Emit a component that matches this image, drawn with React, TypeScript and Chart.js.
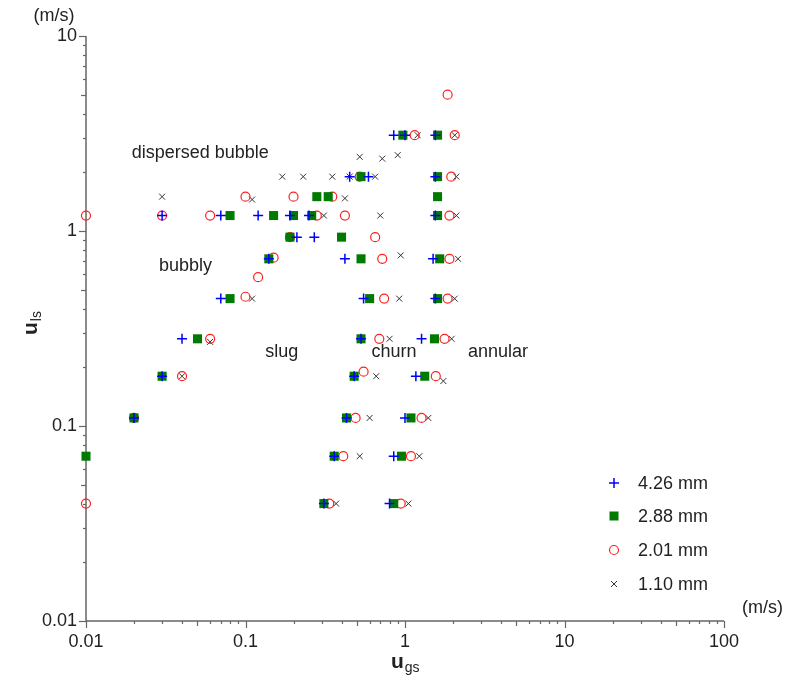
import React, { useEffect, useRef } from 'react';
import { Chart, registerables } from 'chart.js';

Chart.register(...registerables);

// ---- data ----
const seriesLabels = ['4.26 mm', '2.88 mm', '2.01 mm', '1.10 mm'];

const plusX = [0.03, 0.07, 0.12, 0.19, 0.25, 1.55, 0.21, 0.27, 0.14, 0.42, 1.5, 0.07, 0.55, 1.55, 0.04, 0.53, 1.27, 0.03, 0.48, 1.17, 0.02, 0.43, 1.0, 0.36, 0.85, 0.31, 0.8, 0.45, 0.59, 1.55, 0.85, 1.0, 1.55];
const plusY = [1.2, 1.2, 1.2, 1.2, 1.2, 1.2, 0.93, 0.93, 0.72, 0.72, 0.72, 0.45, 0.45, 0.45, 0.28, 0.28, 0.28, 0.18, 0.18, 0.18, 0.11, 0.11, 0.11, 0.07, 0.07, 0.04, 0.04, 1.9, 1.9, 1.9, 3.1, 3.1, 3.1];

const squareX = [0.01, 0.02, 0.03, 0.05, 0.08, 0.14, 0.19, 0.08, 0.15, 0.2, 0.26, 0.28, 0.33, 1.6, 0.53, 1.6, 0.97, 1.6, 1.6, 0.4, 0.53, 1.65, 0.6, 1.6, 0.53, 1.53, 0.48, 1.33, 0.43, 1.09, 0.36, 0.95, 0.31, 0.85];
const squareY = [0.07, 0.11, 0.18, 0.28, 0.45, 0.72, 0.93, 1.2, 1.2, 1.2, 1.2, 1.5, 1.5, 1.5, 1.9, 1.9, 3.1, 3.1, 1.2, 0.93, 0.72, 0.72, 0.45, 0.45, 0.28, 0.28, 0.18, 0.18, 0.11, 0.11, 0.07, 0.07, 0.04, 0.04];

const circleX = [0.01, 0.01, 0.02, 0.04, 0.06, 0.1, 0.12, 0.15, 0.19, 0.03, 0.06, 0.1, 0.2, 0.28, 0.35, 0.42, 0.52, 0.65, 0.72, 0.74, 0.69, 0.55, 0.49, 0.41, 0.335, 1.15, 2.05, 1.85, 1.95, 1.9, 1.9, 1.85, 1.77, 1.56, 1.27, 1.09, 0.94];
const circleY = [1.2, 0.04, 0.11, 0.18, 0.28, 0.46, 0.58, 0.73, 0.93, 1.2, 1.2, 1.5, 1.5, 1.2, 1.5, 1.2, 1.9, 0.93, 0.72, 0.45, 0.28, 0.19, 0.11, 0.07, 0.04, 3.1, 3.1, 5.0, 1.9, 1.2, 0.72, 0.45, 0.28, 0.18, 0.11, 0.07, 0.04];

const crossX = [0.02, 0.04, 0.06, 0.11, 0.03, 0.11, 0.17, 0.23, 0.35, 0.45, 0.65, 2.1, 0.31, 0.7, 2.1, 0.42, 0.52, 0.72, 0.9, 1.2, 2.05, 0.94, 2.15, 0.92, 2.05, 0.8, 1.96, 0.66, 1.74, 0.6, 1.4, 0.52, 1.23, 0.37, 1.05];
const crossY = [0.11, 0.18, 0.27, 0.45, 1.5, 1.45, 1.9, 1.9, 1.9, 1.9, 1.9, 1.9, 1.2, 1.2, 1.2, 1.47, 2.4, 2.35, 2.45, 3.1, 3.1, 0.75, 0.72, 0.45, 0.45, 0.28, 0.28, 0.18, 0.17, 0.11, 0.11, 0.07, 0.07, 0.04, 0.04];

const xTickValues = [0.01, 0.1, 1, 10, 100];
const xTickLabels = ['0.01', '0.1', '1', '10', '100'];
const yTickValues = [0.01, 0.1, 1, 10];
const yTickLabels = ['0.01', '0.1', '1', '10'];

const regionLabels = ['dispersed bubble', 'bubbly', 'slug', 'churn', 'annular'];
const regionX = [0.052, 0.042, 0.169, 0.853, 3.83];
const regionY = [2.51, 0.66, 0.239, 0.239, 0.239];

const unitText = '(m/s)';

// ---- styles ----
const FONT = '"Liberation Sans", Arial, sans-serif';
const TEXT = '#222';
const AXIS = '#666';
const BLUE = '#0000ff';
const GREEN = '#007a00';
const RED = '#ff2020';
const DARK = '#333';

const toPts = (xs: number[], ys: number[]) => xs.map((x, i) => ({ x, y: ys[i] }));

function drawMarker(ctx: CanvasRenderingContext2D, kind: number, cx: number, cy: number) {
  ctx.save();
  if (kind === 0) {
    ctx.strokeStyle = BLUE; ctx.lineWidth = 1.5;
    ctx.beginPath();
    ctx.moveTo(cx - 5, cy); ctx.lineTo(cx + 5, cy);
    ctx.moveTo(cx, cy - 5); ctx.lineTo(cx, cy + 5);
    ctx.stroke();
  } else if (kind === 1) {
    ctx.fillStyle = GREEN;
    ctx.fillRect(cx - 4.5, cy - 4.5, 9, 9);
  } else if (kind === 2) {
    ctx.strokeStyle = RED; ctx.lineWidth = 1.2;
    ctx.beginPath(); ctx.arc(cx, cy, 4.5, 0, Math.PI * 2); ctx.stroke();
  } else {
    ctx.strokeStyle = DARK; ctx.lineWidth = 1;
    ctx.beginPath();
    ctx.moveTo(cx - 3, cy - 3); ctx.lineTo(cx + 3, cy + 3);
    ctx.moveTo(cx + 3, cy - 3); ctx.lineTo(cx - 3, cy + 3);
    ctx.stroke();
  }
  ctx.restore();
}

const axesPlugin = {
  id: 'axesPlugin',
  beforeDatasetsDraw(chart: any) {
    const { ctx, chartArea, scales } = chart;
    const { left, right, top, bottom } = chartArea;
    const xs = scales.x, ys = scales.y;
    ctx.save();
    ctx.strokeStyle = AXIS;
    ctx.lineWidth = 1.5;
    ctx.beginPath();
    ctx.moveTo(left, top); ctx.lineTo(left, bottom); ctx.lineTo(right, bottom);
    ctx.stroke();
    ctx.lineWidth = 1.2;
    // x ticks
    for (let e = -2; e <= 2; e++) {
      for (let k = 1; k <= 9; k++) {
        const v = k * Math.pow(10, e);
        if (v > 100.0001) break;
        const px = Math.round(xs.getPixelForValue(v)) + 0.5;
        const len = k === 1 ? 7 : k === 5 ? 5 : 3;
        ctx.beginPath(); ctx.moveTo(px, bottom); ctx.lineTo(px, bottom + len); ctx.stroke();
      }
    }
    for (let e = -2; e <= 1; e++) {
      for (let k = 1; k <= 9; k++) {
        const v = k * Math.pow(10, e);
        if (v > 10.0001) break;
        const py = Math.round(ys.getPixelForValue(v)) + 0.5;
        const len = k === 1 ? 7 : k === 5 ? 5 : 3;
        ctx.beginPath(); ctx.moveTo(left, py); ctx.lineTo(left - len, py); ctx.stroke();
      }
    }
    ctx.restore();
  },
  afterDraw(chart: any) {
    const { ctx, chartArea, scales } = chart;
    const { left, right, top, bottom } = chartArea;
    const xs = scales.x, ys = scales.y;
    ctx.save();
    ctx.fillStyle = TEXT;
    ctx.font = `18px ${FONT}`;
    // x tick labels
    ctx.textAlign = 'center'; ctx.textBaseline = 'top';
    xTickValues.forEach((v, i) => ctx.fillText(xTickLabels[i], xs.getPixelForValue(v), bottom + 12));
    // y tick labels
    ctx.textAlign = 'right'; ctx.textBaseline = 'middle';
    yTickValues.forEach((v, i) => ctx.fillText(yTickLabels[i], left - 9, ys.getPixelForValue(v)));
    // units
    ctx.textAlign = 'center'; ctx.textBaseline = 'middle';
    ctx.fillText(unitText, 54, top - 20);
    ctx.textAlign = 'left';
    ctx.fillText(unitText, right + 18, bottom - 13);
    // region labels
    ctx.textAlign = 'center'; ctx.textBaseline = 'middle';
    regionLabels.forEach((t, i) => ctx.fillText(t, xs.getPixelForValue(regionX[i]), ys.getPixelForValue(regionY[i])));
    // x axis title
    ctx.textAlign = 'left'; ctx.textBaseline = 'alphabetic';
    ctx.font = `bold 21px ${FONT}`;
    const xt = (left + right) / 2 - 14;
    ctx.fillText('u', xt, 668);
    const uw = ctx.measureText('u').width;
    ctx.font = `14px ${FONT}`;
    ctx.fillText('gs', xt + uw + 1, 672);
    // y axis title
    ctx.save();
    ctx.translate(37, 0);
    ctx.rotate(-Math.PI / 2);
    ctx.font = `bold 21px ${FONT}`;
    const yt = -335;
    ctx.fillText('u', yt, 0);
    const uw2 = ctx.measureText('u').width;
    ctx.font = `14px ${FONT}`;
    ctx.fillText('ls', yt + uw2 + 1, 4);
    ctx.restore();
    // legend
    ctx.font = `18px ${FONT}`;
    ctx.textAlign = 'left'; ctx.textBaseline = 'middle';
    const ly = [483, 516, 550, 584];
    seriesLabels.forEach((t, i) => {
      drawMarker(ctx, i, 614, ly[i]);
      ctx.fillStyle = TEXT;
      ctx.fillText(t, 638, ly[i] + 1);
    });
    ctx.restore();
  },
};

export default function App() {
  const ref = useRef<HTMLCanvasElement>(null);
  useEffect(() => {
    if (!ref.current) return;
    const chart = new Chart(ref.current, {
      type: 'scatter',
      data: {
        datasets: [
          { label: seriesLabels[0], data: toPts(plusX, plusY), pointStyle: 'cross', radius: 5, borderColor: BLUE, backgroundColor: BLUE, borderWidth: 1.5, clip: false } as any,
          { label: seriesLabels[1], data: toPts(squareX, squareY), pointStyle: 'rect', radius: 6.4, borderColor: GREEN, backgroundColor: GREEN, borderWidth: 0, clip: false } as any,
          { label: seriesLabels[2], data: toPts(circleX, circleY), pointStyle: 'circle', radius: 4.5, borderColor: RED, backgroundColor: 'rgba(0,0,0,0)', borderWidth: 1.2, clip: false } as any,
          { label: seriesLabels[3], data: toPts(crossX, crossY), pointStyle: 'crossRot', radius: 4.2, borderColor: DARK, backgroundColor: DARK, borderWidth: 1, clip: false } as any,
        ],
      },
      options: {
        animation: false,
        responsive: false,
        events: [],
        layout: { padding: { left: 86, right: 61, top: 36, bottom: 63 } },
        plugins: { legend: { display: false }, tooltip: { enabled: false } },
        scales: {
          x: { type: 'logarithmic', min: 0.01, max: 100, display: false },
          y: { type: 'logarithmic', min: 0.01, max: 10, display: false },
        },
      },
      plugins: [axesPlugin],
    });
    return () => chart.destroy();
  }, []);
  return (
    <div style={{ position: 'absolute', left: 0, top: 0, width: 785, height: 684, background: '#fff' }}>
      <canvas ref={ref} width={785} height={684} style={{ display: 'block' }} />
    </div>
  );
}
